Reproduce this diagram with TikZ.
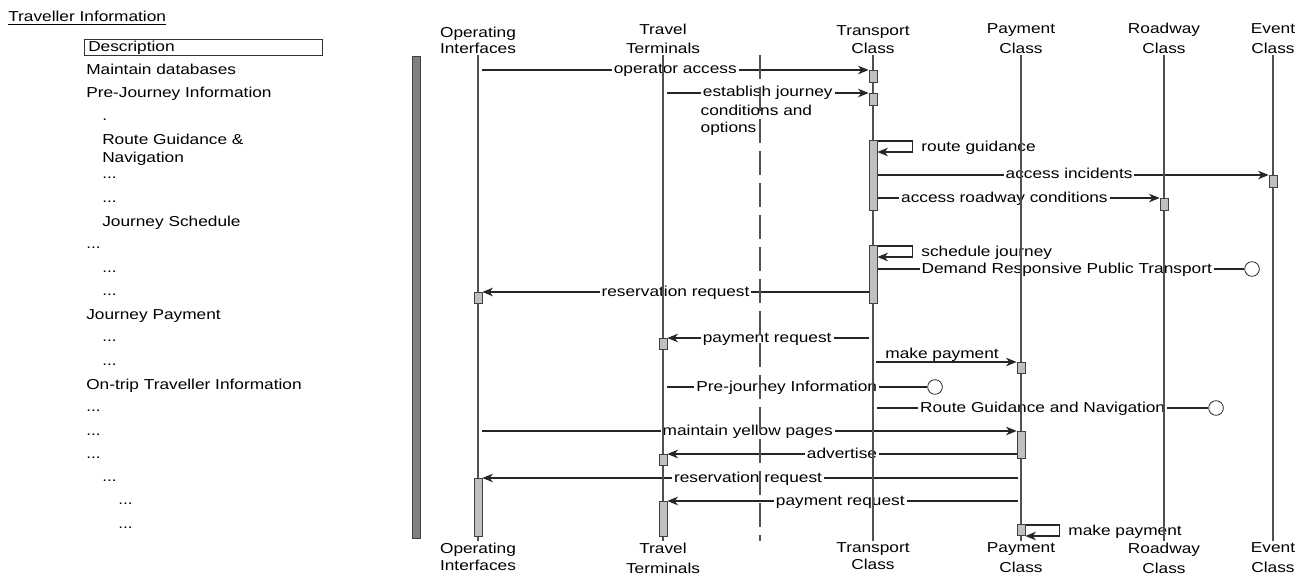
\documentclass[tikz,border=0pt]{standalone}
\usepackage{fontspec}
\setmainfont[FakeStretch=1.2]{Liberation Sans}
\usetikzlibrary{arrows.meta,positioning,calc}
\definecolor{lifegray}{RGB}{80,80,80}
\definecolor{actgray}{RGB}{192,192,192}
\definecolor{bargray}{RGB}{128,128,128}
\pgfdeclarelayer{msgs}
\pgfdeclarelayer{lines}
\pgfsetlayers{msgs,lines,main}

\begin{document}
\begin{tikzpicture}[
  x=0.75pt, y=-0.75pt,
  font=\fontsize{10.8}{13}\selectfont,
  >={Stealth[length=8pt,width=6.5pt,inset=2.6pt]},
  listitem/.style = {anchor=base west, inner sep=0pt},
  descbox/.style  = {draw=black!80, line width=0.6pt, anchor=north west, inner sep=0pt,
                     minimum width=178.5pt, minimum height=12pt},
  hdr/.style      = {anchor=south, align=center, inner sep=1pt, font=\fontsize{10.8}{12}\selectfont},
  ftr/.style      = {anchor=north, align=center, inner sep=1pt, font=\fontsize{10.8}{12}\selectfont},
  life/.style     = {draw=lifegray, line width=0.9pt},
  divider/.style  = {draw=lifegray, line width=0.9pt, dash pattern=on 18pt off 6pt},
  actbox/.style   = {draw=black!75, fill=actgray, line width=0.6pt, anchor=north,
                     inner sep=0pt, minimum width=6pt, minimum height=#1*0.75pt},
  msg/.style      = {->, draw=black!85, line width=0.85pt},
  ln/.style       = {draw=black!85, line width=0.85pt},
  lab/.style      = {fill=white, inner xsep=1.5pt, inner ysep=1pt, text height=6pt, text depth=0pt},
  side/.style     = {right=3pt, yshift=-1pt, text height=6pt, text depth=0pt},
  endpt/.style    = {circle, draw=black!85, fill=white, line width=0.6pt,
                     inner sep=0pt, minimum size=11pt}
]
\useasboundingbox (0,0) rectangle (1302,574);

%% ===== left: scenario text =====
\node[listitem] (title) at (8,22) {\underline{Traveller Information}};
\node[descbox] (descBox) at (84,39) {};
\node[listitem] (descTxt) at (88,52) {Description};
\node[listitem] (li1)  at (86,75)  {Maintain databases};
\node[listitem] (li2)  at (86,98)  {Pre-Journey Information};
\node[listitem] (li3)  at (102,121) {.};
\node[listitem] (li4)  at (102,145) {Route Guidance \&};
\node[listitem] (li5)  at (102,162) {Navigation};
\node[listitem] (li6)  at (102,179) {...};
\node[listitem] (li7)  at (102,202) {...};
\node[listitem] (li8)  at (102,226) {Journey Schedule};
\node[listitem] (li9)  at (86,248)  {...};
\node[listitem] (li10) at (102,272) {...};
\node[listitem] (li11) at (102,295) {...};
\node[listitem] (li12) at (86,319)  {Journey Payment};
\node[listitem] (li13) at (102,341) {...};
\node[listitem] (li14) at (102,365) {...};
\node[listitem] (li15) at (86,389)  {On-trip Traveller Information};
\node[listitem] (li16) at (86,411)  {...};
\node[listitem] (li17) at (86,435)  {...};
\node[listitem] (li18) at (86,458)  {...};
\node[listitem] (li19) at (102,481) {...};
\node[listitem] (li20) at (118,504) {...};
\node[listitem] (li21) at (118,528) {...};

\node[draw=black!75, fill=bargray, anchor=north, inner sep=0pt,
      minimum width=6pt, minimum height=482*0.75pt] (sideBar) at (416,56) {};

%% ===== objects =====
\node[hdr] (oiH) at (478,55)  {Operating\\Interfaces};
\node[hdr] (ttH) at (663,55)  {Travel\\[2pt]Terminals};
\node[hdr] (tcH) at (873,55)  {Transport\\[1pt]Class};
\node[hdr] (pcH) at (1021,55) {Payment\\[3pt]Class};
\node[hdr] (rcH) at (1164,55) {Roadway\\[3pt]Class};
\node[hdr] (ecH) at (1273,55) {Event\\[3pt]Class};

\node[ftr] (oiF) at (478,541)  {Operating\\[1pt]Interfaces};
\node[ftr] (ttF) at (663,541)  {Travel\\[3pt]Terminals};
\node[ftr] (tcF) at (873,541)  {Transport\\[1pt]Class};
\node[ftr] (pcF) at (1021,541) {Payment\\[3pt]Class};
\node[ftr] (rcF) at (1164,541) {Roadway\\[3pt]Class};
\node[ftr] (ecF) at (1273,541) {Event\\[3pt]Class};

\coordinate (divTop) at (760,55);
\coordinate (divBot) at (760,541);

%% activation boxes
\node[actbox=12] (opBox)  at (873,70)  {};
\node[actbox=12] (ejBox)  at (873,93)  {};
\node[actbox=70] (rgBox)  at (873,140) {};
\node[actbox=12] (aiBox)  at (1273,175) {};
\node[actbox=12] (arBox)  at (1164,198) {};
\node[actbox=58] (sjBox)  at (873,245) {};
\node[actbox=11] (rrBox)  at (478,292) {};
\node[actbox=11] (prBox)  at (663,338) {};
\node[actbox=11] (mpBox)  at (1021,362) {};
\node[actbox=27] (ypBox)  at (1021,431) {};
\node[actbox=11] (adBox)  at (663,454) {};
\node[actbox=58] (rr2Box) at (478,478) {};
\node[actbox=35] (pr2Box) at (663,501) {};
\node[actbox=11] (mp2Box) at (1021,524) {};

%% ===== messages =====
\begin{pgfonlayer}{msgs}
\draw[msg] ($(oiH.south |- opBox.north)+(4,0)$) -- node[lab] (opLab) {operator access} (opBox.north west);
\draw[msg] ($(ttH.south |- ejBox.north)+(4,0)$) -- node[lab] (ejLab) {establish journey} (ejBox.north west);
\node[anchor=north west, align=left, inner sep=0pt] (ejMore) at ($(ejLab.south west)+(0,6)$)
  {conditions and\\options};
\draw[msg] ($(rgBox.north east)+(0,1)$) -- ++(35,0) -- node[side] (rgLab) {route guidance} ++(0,11) -- ++(-35,0);
\draw[msg] (rgBox.east |- aiBox.north) -- node[lab, pos=0.49] (aiLab) {access incidents} (aiBox.north west);
\draw[msg] (rgBox.east |- arBox.north) -- node[lab, pos=0.45] (arLab) {access roadway conditions} (arBox.north west);
\draw[msg] ($(sjBox.north east)+(0,1)$) -- ++(35,0) -- node[side] (sjLab) {schedule journey} ++(0,11) -- ++(-35,0);
\node[endpt] (drEnd) at (1252,269) {};
\draw[ln] (sjBox.east |- drEnd) -- node[lab, pos=0.516] (drLab) {Demand Responsive Public Transport} (drEnd);
\draw[msg] (sjBox.west |- rrBox.north) -- node[lab] (rrLab) {reservation request} (rrBox.north east);
\draw[msg] ($(tcH.south |- prBox.north)+(-4,0)$) -- node[lab, pos=0.505] (prLab) {payment request} (prBox.north east);
\draw[msg] ($(tcH.south |- mpBox.north)+(3,0)$) -- node[above=-3pt, pos=0.47] (mpLab) {make payment} (mpBox.north west);
\node[endpt] (pjEnd) at (935,387) {};
\draw[ln] ($(ttH.south |- pjEnd)+(4,0)$) -- node[lab, pos=0.46] (pjLab) {Pre-journey Information} (pjEnd);
\node[endpt] (rgnEnd) at (1216,408) {};
\draw[ln] ($(tcH.south |- rgnEnd)+(4,0)$) -- node[lab, pos=0.5] (rgnLab) {Route Guidance and Navigation} (rgnEnd);
\draw[msg] ($(oiH.south |- ypBox.north)+(4,0)$) -- node[lab, pos=0.497] (ypLab) {maintain yellow pages} (ypBox.north west);
\draw[msg] (ypBox.west |- adBox.north) -- node[lab] (adLab) {advertise} (adBox.north east);
\draw[msg] ($(pcH.south |- rr2Box.north)+(-3,0)$) -- node[lab, pos=0.504] (rr2Lab) {reservation request} (rr2Box.north east);
\draw[msg] ($(pcH.south |- pr2Box.north)+(-3,0)$) -- node[lab, pos=0.507] (pr2Lab) {payment request} (pr2Box.north east);
\draw[msg] ($(mp2Box.north east)+(0,1)$) -- ++(34,0) -- node[side] (mp2Lab) {make payment} ++(0,11) -- ++(-34,0);
\end{pgfonlayer}

%% ===== lifelines =====
\begin{pgfonlayer}{lines}
\foreach \nm in {oi,tt,tc,pc,rc,ec}
  \draw[life] (\nm H) -- (\nm F);
\draw[divider] (divTop) -- (divBot);
\end{pgfonlayer}

\end{tikzpicture}
\end{document}
